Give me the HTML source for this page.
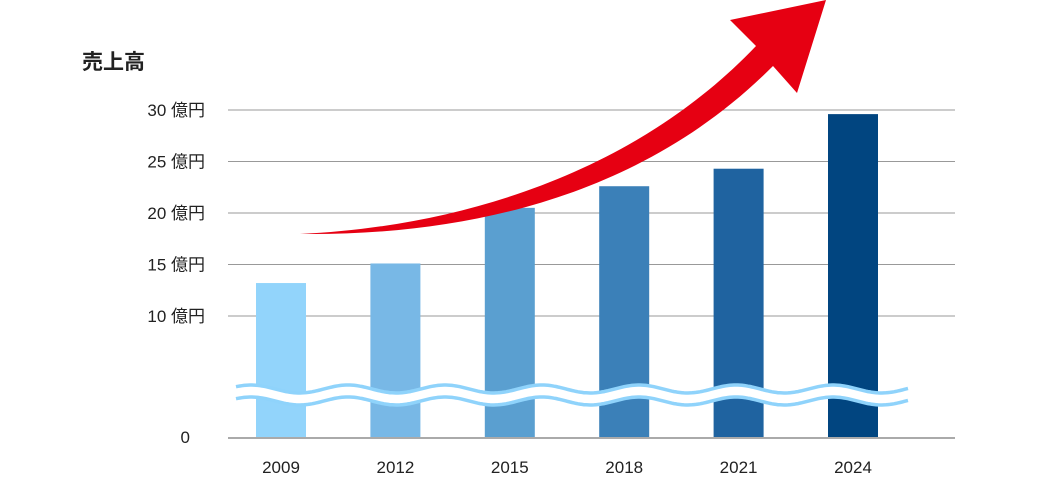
<!DOCTYPE html>
<html><head><meta charset="utf-8"><style>
body{margin:0;background:#fff;}
svg text{font-family:"Liberation Sans","Noto Sans CJK JP",sans-serif;}
</style></head><body>
<svg width="1038" height="480" viewBox="0 0 1038 480">
<text x="82" y="69" font-size="21" font-weight="bold" fill="#222">売上高</text>
<g id="grid"></g>
<g id="bars"></g>
<g id="xlabels"></g>
<line x1="228" y1="438" x2="955" y2="438" stroke="#aaa" stroke-width="2"/>
<g>
<path id="wavefill" fill="#fff"/>
<path id="wavetop" fill="none" stroke="#8fd3fb" stroke-width="3.5"/>
<path id="wavebot" fill="none" stroke="#8fd3fb" stroke-width="3.5"/>
</g>
<path fill="#e60012"
 d="M300,234 C470,226 640,168 756,46 L730,20 L826,0 L797,93 L773,66 C650,190 480,236 300,234 Z"/>
<text x="190" y="443" font-size="17" fill="#222" text-anchor="end">0</text>
</svg>
<script>
const categories=["2009","2012","2015","2018","2021","2024"];
const values=[13.2,15.1,20.5,22.6,24.3,29.6];
const ticks=[10,15,20,25,30];
const tickLabels=["10 億円","15 億円","20 億円","25 億円","30 億円"];
const colors=["#92d4fb","#78b8e6","#5a9fd0","#3b80b8","#1f63a0","#014580"];
const NS="http://www.w3.org/2000/svg";
function yScale(v){return 316-(v-10)*10.3;}
function xScale(i){return 281+i*114.4;}
const grid=document.getElementById('grid');
ticks.forEach((t,i)=>{
 const l=document.createElementNS(NS,'line');
 
 
 l.setAttribute('x1',228);l.setAttribute('x2',955);l.setAttribute('y1',yScale(t));l.setAttribute('y2',yScale(t));
 l.setAttribute('stroke','#999');l.setAttribute('stroke-width','1');grid.appendChild(l);
 const tx=document.createElementNS(NS,'text');
 
 
 tx.setAttribute('x',205);tx.setAttribute('y',yScale(t)+6);tx.setAttribute('text-anchor','end');
 tx.setAttribute('font-size','17');tx.setAttribute('fill','#222');tx.textContent=tickLabels[i];grid.appendChild(tx);
});
const bars=document.getElementById('bars'),xl=document.getElementById('xlabels');
values.forEach((v,i)=>{
 const r=document.createElementNS(NS,'rect');
 
 
 r.setAttribute('x',xScale(i)-25);r.setAttribute('width',50);r.setAttribute('y',yScale(v));r.setAttribute('height',438-yScale(v));
 r.setAttribute('fill',colors[i]);bars.appendChild(r);
 const t=document.createElementNS(NS,'text');
 
 
 t.setAttribute('x',xScale(i));t.setAttribute('y',473);t.setAttribute('text-anchor','middle');
 t.setAttribute('font-size','17');t.setAttribute('fill','#222');t.textContent=categories[i];xl.appendChild(t);
});
function wave(y0){let p=[];for(let X=236;X<=908;X+=2){p.push([X,y0-4*Math.sin((X-236)/97*2*Math.PI+0.6)]);}return p;}
function toD(p){return p.map((q,i)=>(i?'L':'M')+q[0].toFixed(1)+','+q[1].toFixed(1)).join(' ');}
const waveTop=wave(389),waveBot=wave(401);
document.getElementById('wavetop').setAttribute('d',toD(waveTop));
document.getElementById('wavebot').setAttribute('d',toD(waveBot));
document.getElementById('wavefill').setAttribute('d',toD(waveTop.concat(waveBot.slice().reverse()))+' Z');
</script>
</body></html>
